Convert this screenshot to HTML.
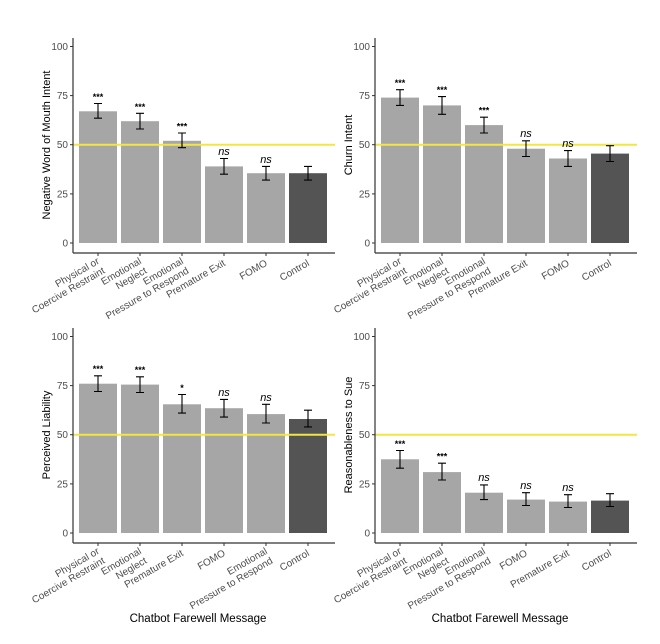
<!DOCTYPE html>
<html><head><meta charset="utf-8"><style>
body{margin:0;background:#fff}
svg{font-family:"Liberation Sans",sans-serif}
.tk{font-size:10px;fill:#4d4d4d}
.xl{font-size:10px;fill:#4d4d4d}
.st{font-size:9px;font-weight:bold;fill:#000}
.ns{font-size:11px;font-style:italic;fill:#000}
.yt{font-size:11px;fill:#000}
.b{fill:#a6a6a6}.c{fill:#545454}
.e{stroke:#000;stroke-width:1.1;fill:none}
</style></head><body>
<svg width="660" height="639" viewBox="0 0 660 639">
<defs>
<g id="ax">
<line x1="0" y1="-205" x2="0" y2="10" stroke="#333" stroke-width="1.2"/>
<line x1="0" y1="10" x2="262" y2="10" stroke="#333" stroke-width="1.2"/>
<g class="tk" text-anchor="end">
<text x="-5" y="3.5">0</text><text x="-5" y="-45.6">25</text><text x="-5" y="-94.8">50</text><text x="-5" y="-143.9">75</text><text x="-5" y="-193">100</text>
</g>
<g stroke="#333"><line x1="-3" x2="0" y1="0" y2="0"/><line x1="-3" x2="0" y1="-49.1" y2="-49.1"/><line x1="-3" x2="0" y1="-98.3" y2="-98.3"/><line x1="-3" x2="0" y1="-147.4" y2="-147.4"/><line x1="-3" x2="0" y1="-196.5" y2="-196.5"/></g>
<g stroke="#333"><line x1="25" x2="25" y1="10" y2="13"/><line x1="67" x2="67" y1="10" y2="13"/><line x1="109" x2="109" y1="10" y2="13"/><line x1="151" x2="151" y1="10" y2="13"/><line x1="193" x2="193" y1="10" y2="13"/><line x1="235" x2="235" y1="10" y2="13"/></g>
</g>
</defs>

<!-- TL -->
<g transform="translate(73,243)">
<rect class="b" x="6" y="-131.7" width="38" height="131.7"/>
<rect class="b" x="48" y="-121.8" width="38" height="121.8"/>
<rect class="b" x="90" y="-102.2" width="38" height="102.2"/>
<rect class="b" x="132" y="-76.6" width="38" height="76.6"/>
<rect class="b" x="174" y="-69.8" width="38" height="69.8"/>
<rect class="c" x="216" y="-69.8" width="38" height="69.8"/>
<line x1="0" x2="262" y1="-98.3" y2="-98.3" stroke="#f2e640" stroke-width="2"/>
<path class="e" d="M25-124.8V-139.5M21-124.8H29M21-139.5H29 M67-114V-129.7M63-114H71M63-129.7H71 M109-95.3V-110M105-95.3H113M105-110H113 M151-68.8V-84.5M147-68.8H155M147-84.5H155 M193-62.9V-76.6M189-62.9H197M189-76.6H197 M235-62.9V-76.6M231-62.9H239M231-76.6H239"/>
<g text-anchor="middle"><text class="st" x="25" y="-143">***</text><text class="st" x="67" y="-133">***</text><text class="st" x="109" y="-113.5">***</text><text class="ns" x="151" y="-88">ns</text><text class="ns" x="193" y="-80">ns</text></g>
<use href="#ax"/>
<g class="xl" text-anchor="end">
<text transform="translate(27,20) rotate(-30)"><tspan x="0" y="0">Physical or</tspan><tspan x="0" y="11">Coercive Restraint</tspan></text>
<text transform="translate(69,20) rotate(-30)"><tspan x="0" y="0">Emotional</tspan><tspan x="0" y="11">Neglect</tspan></text>
<text transform="translate(111,20) rotate(-30)"><tspan x="0" y="0">Emotional</tspan><tspan x="0" y="11">Pressure to Respond</tspan></text>
<text transform="translate(153,22) rotate(-30)">Premature Exit</text>
<text transform="translate(195,22) rotate(-30)">FOMO</text>
<text transform="translate(237,22) rotate(-30)">Control</text>
</g>
<text class="yt" transform="translate(-23,-98) rotate(-90)" text-anchor="middle">Negative Word of Mouth Intent</text>
</g>

<!-- TR -->
<g transform="translate(375,243)">
<rect class="b" x="6" y="-145.4" width="38" height="145.4"/>
<rect class="b" x="48" y="-137.6" width="38" height="137.6"/>
<rect class="b" x="90" y="-117.9" width="38" height="117.9"/>
<rect class="b" x="132" y="-94.3" width="38" height="94.3"/>
<rect class="b" x="174" y="-84.5" width="38" height="84.5"/>
<rect class="c" x="216" y="-89.4" width="38" height="89.4"/>
<line x1="0" x2="262" y1="-98.3" y2="-98.3" stroke="#f2e640" stroke-width="2"/>
<path class="e" d="M25-137.6V-153.3M21-137.6H29M21-153.3H29 M67-128.7V-146.4M63-128.7H71M63-146.4H71 M109-110V-125.8M105-110H113M105-125.8H113 M151-86.5V-102.2M147-86.5H155M147-102.2H155 M193-76.6V-92.4M189-76.6H197M189-92.4H197 M235-81.5V-97.3M231-81.5H239M231-97.3H239"/>
<g text-anchor="middle"><text class="st" x="25" y="-157">***</text><text class="st" x="67" y="-150">***</text><text class="st" x="109" y="-129.5">***</text><text class="ns" x="151" y="-106">ns</text><text class="ns" x="193" y="-96">ns</text></g>
<use href="#ax"/>
<g class="xl" text-anchor="end">
<text transform="translate(27,20) rotate(-30)"><tspan x="0" y="0">Physical or</tspan><tspan x="0" y="11">Coercive Restraint</tspan></text>
<text transform="translate(69,20) rotate(-30)"><tspan x="0" y="0">Emotional</tspan><tspan x="0" y="11">Neglect</tspan></text>
<text transform="translate(111,20) rotate(-30)"><tspan x="0" y="0">Emotional</tspan><tspan x="0" y="11">Pressure to Respond</tspan></text>
<text transform="translate(153,22) rotate(-30)">Premature Exit</text>
<text transform="translate(195,22) rotate(-30)">FOMO</text>
<text transform="translate(237,22) rotate(-30)">Control</text>
</g>
<text class="yt" transform="translate(-23,-98) rotate(-90)" text-anchor="middle">Churn Intent</text>
</g>

<!-- BL -->
<g transform="translate(73,533)">
<rect class="b" x="6" y="-149.3" width="38" height="149.3"/>
<rect class="b" x="48" y="-148.4" width="38" height="148.4"/>
<rect class="b" x="90" y="-128.7" width="38" height="128.7"/>
<rect class="b" x="132" y="-124.8" width="38" height="124.8"/>
<rect class="b" x="174" y="-118.9" width="38" height="118.9"/>
<rect class="c" x="216" y="-114" width="38" height="114"/>
<line x1="0" x2="262" y1="-98.3" y2="-98.3" stroke="#f2e640" stroke-width="2"/>
<path class="e" d="M25-141.5V-157.2M21-141.5H29M21-157.2H29 M67-140.5V-156.2M63-140.5H71M63-156.2H71 M109-119.9V-138.5M105-119.9H113M105-138.5H113 M151-115.9V-133.6M147-115.9H155M147-133.6H155 M193-110V-128.7M189-110H197M189-128.7H197 M235-106.1V-122.8M231-106.1H239M231-122.8H239"/>
<g text-anchor="middle"><text class="st" x="25" y="-161">***</text><text class="st" x="67" y="-160">***</text><text class="st" x="109" y="-142">*</text><text class="ns" x="151" y="-137">ns</text><text class="ns" x="193" y="-132">ns</text></g>
<use href="#ax"/>
<g class="xl" text-anchor="end">
<text transform="translate(27,20) rotate(-30)"><tspan x="0" y="0">Physical or</tspan><tspan x="0" y="11">Coercive Restraint</tspan></text>
<text transform="translate(69,20) rotate(-30)"><tspan x="0" y="0">Emotional</tspan><tspan x="0" y="11">Neglect</tspan></text>
<text transform="translate(111,22) rotate(-30)">Premature Exit</text>
<text transform="translate(153,22) rotate(-30)">FOMO</text>
<text transform="translate(195,20) rotate(-30)"><tspan x="0" y="0">Emotional</tspan><tspan x="0" y="11">Pressure to Respond</tspan></text>
<text transform="translate(237,22) rotate(-30)">Control</text>
</g>
<text class="yt" transform="translate(-23,-98) rotate(-90)" text-anchor="middle">Perceived Liability</text>
<text class="yt" x="125" y="89" text-anchor="middle" style="font-size:11.5px">Chatbot Farewell Message</text>
</g>

<!-- BR -->
<g transform="translate(375,533)">
<rect class="b" x="6" y="-73.7" width="38" height="73.7"/>
<rect class="b" x="48" y="-60.9" width="38" height="60.9"/>
<rect class="b" x="90" y="-40.3" width="38" height="40.3"/>
<rect class="b" x="132" y="-33.4" width="38" height="33.4"/>
<rect class="b" x="174" y="-31.4" width="38" height="31.4"/>
<rect class="c" x="216" y="-32.4" width="38" height="32.4"/>
<line x1="0" x2="262" y1="-98.3" y2="-98.3" stroke="#f2e640" stroke-width="2"/>
<path class="e" d="M25-64.8V-82.5M21-64.8H29M21-82.5H29 M67-53V-69.8M63-53H71M63-69.8H71 M109-33.4V-48.1M105-33.4H113M105-48.1H113 M151-27.5V-40.3M147-27.5H155M147-40.3H155 M193-25.5V-38.3M189-25.5H197M189-38.3H197 M235-26.5V-39.3M231-26.5H239M231-39.3H239"/>
<g text-anchor="middle"><text class="st" x="25" y="-86">***</text><text class="st" x="67" y="-73.5">***</text><text class="ns" x="109" y="-52">ns</text><text class="ns" x="151" y="-44">ns</text><text class="ns" x="193" y="-42">ns</text></g>
<use href="#ax"/>
<g class="xl" text-anchor="end">
<text transform="translate(27,20) rotate(-30)"><tspan x="0" y="0">Physical or</tspan><tspan x="0" y="11">Coercive Restraint</tspan></text>
<text transform="translate(69,20) rotate(-30)"><tspan x="0" y="0">Emotional</tspan><tspan x="0" y="11">Neglect</tspan></text>
<text transform="translate(111,20) rotate(-30)"><tspan x="0" y="0">Emotional</tspan><tspan x="0" y="11">Pressure to Respond</tspan></text>
<text transform="translate(153,22) rotate(-30)">FOMO</text>
<text transform="translate(195,22) rotate(-30)">Premature Exit</text>
<text transform="translate(237,22) rotate(-30)">Control</text>
</g>
<text class="yt" transform="translate(-23,-98) rotate(-90)" text-anchor="middle">Reasonableness to Sue</text>
<text class="yt" x="125" y="89" text-anchor="middle" style="font-size:11.5px">Chatbot Farewell Message</text>
</g>
</svg>
</body></html>
